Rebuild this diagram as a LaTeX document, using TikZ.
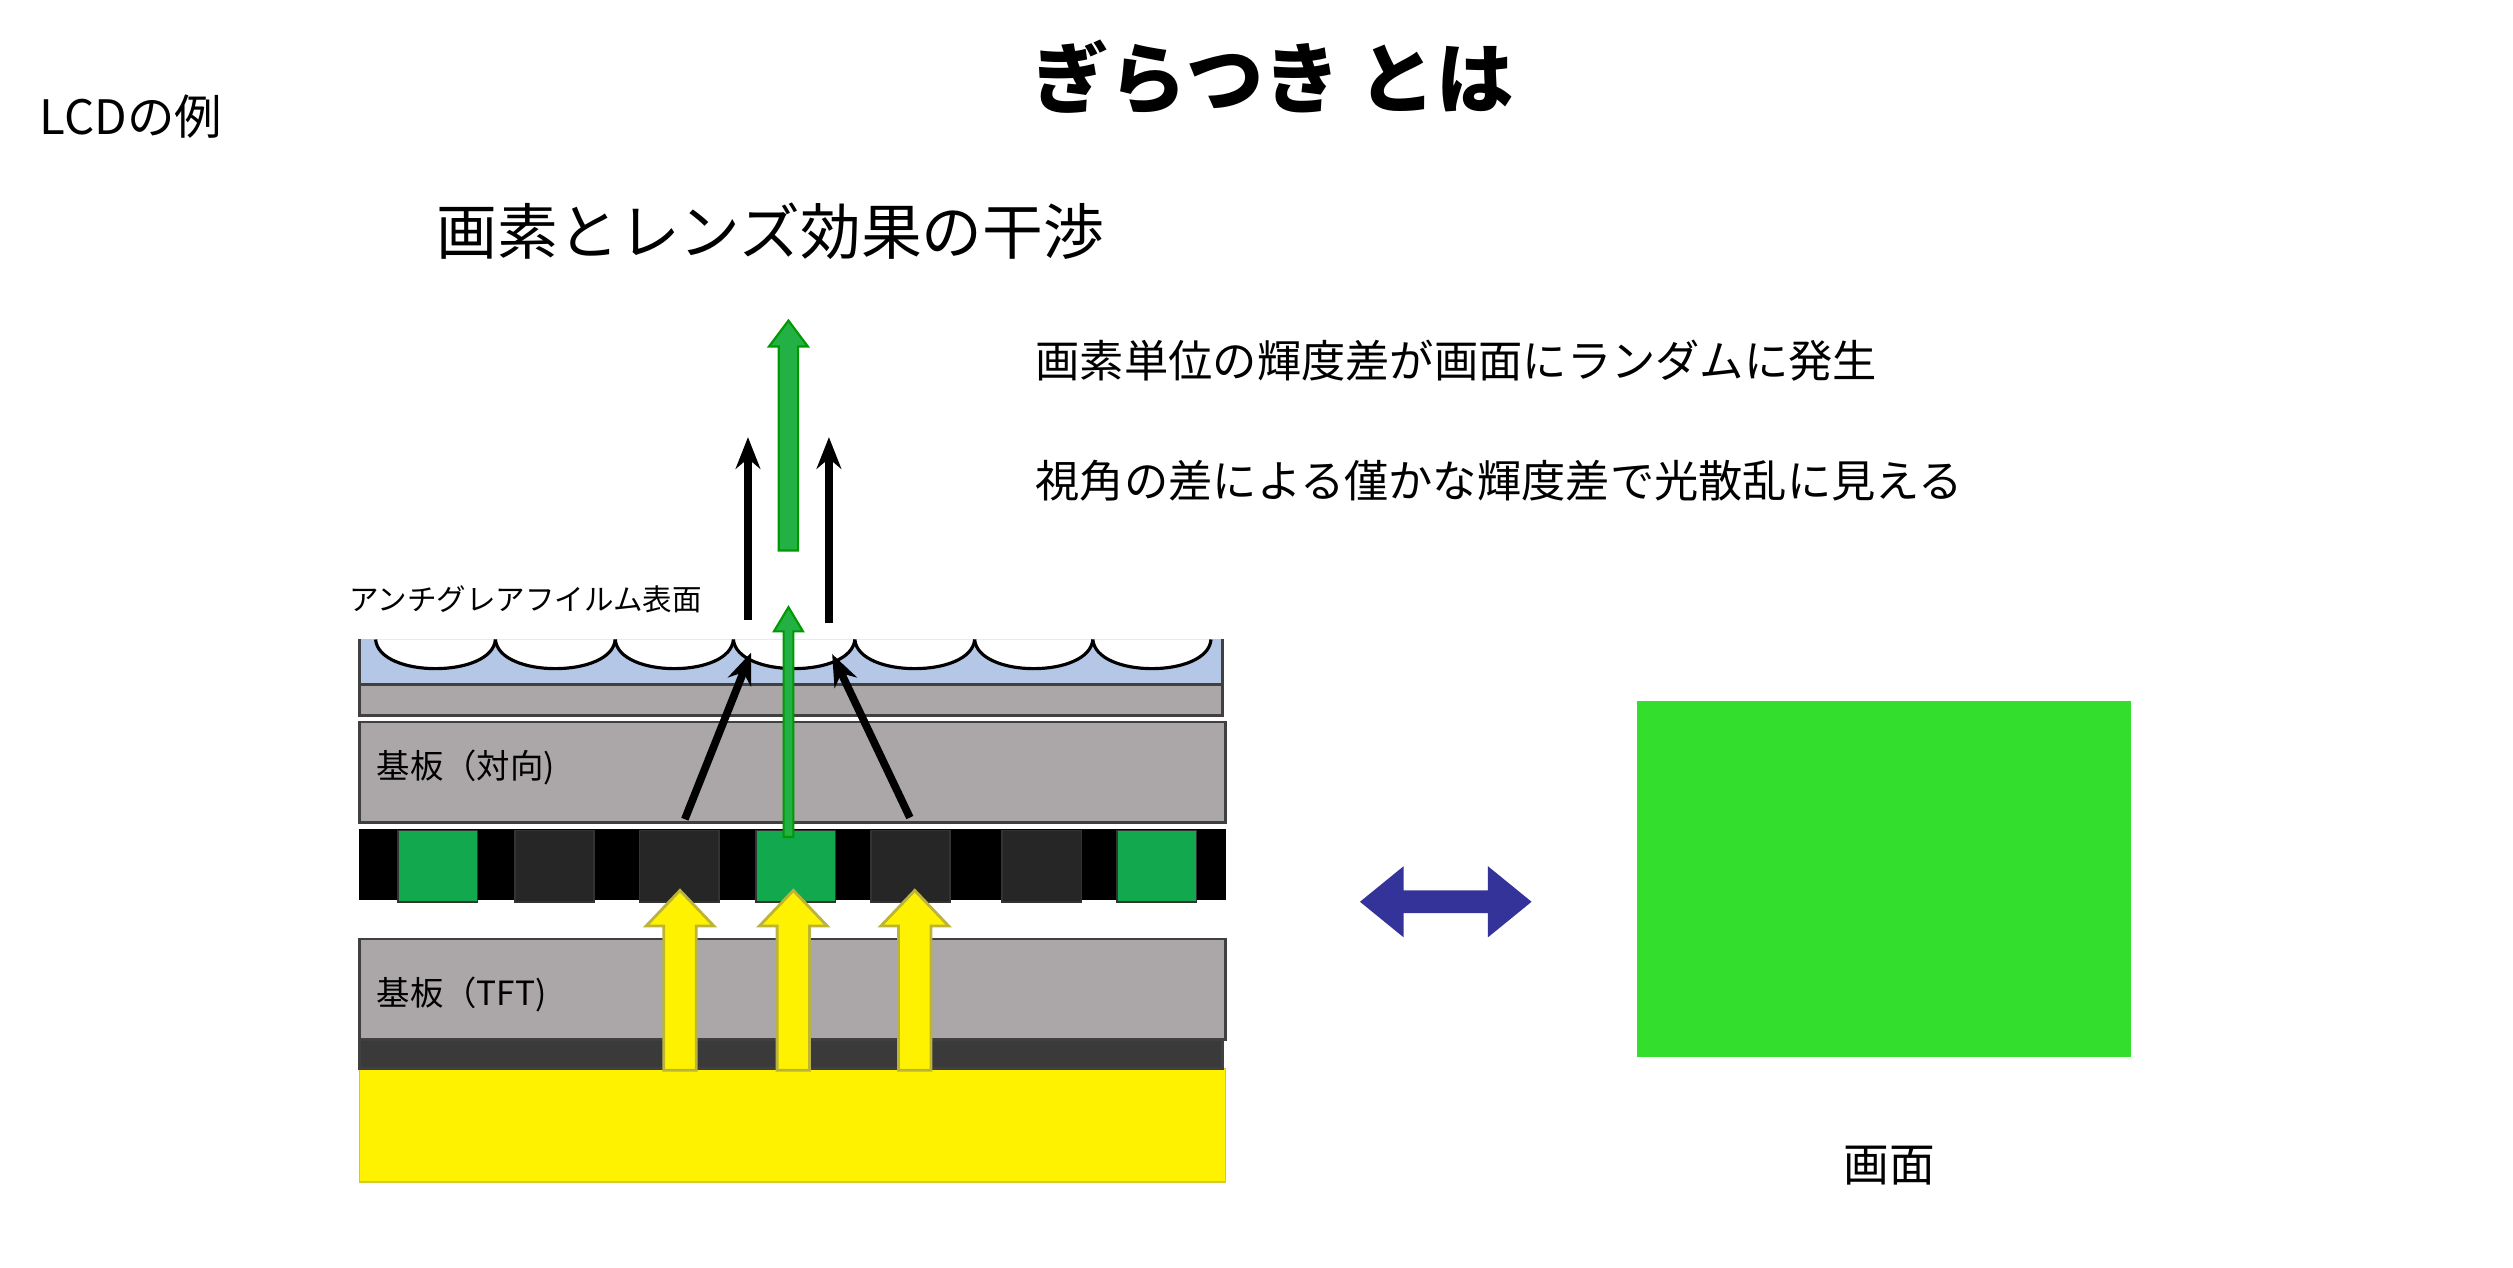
\documentclass[tikz,border=0pt]{standalone}
\usepackage{fontspec}
\setmainfont{Noto Sans CJK JP}
\usetikzlibrary{arrows.meta}
\definecolor{plategray}{RGB}{171,167,168}
\definecolor{filmblue}{RGB}{180,199,231}
\definecolor{cellgreen}{RGB}{18,168,78}
\definecolor{celldark}{RGB}{38,38,38}
\definecolor{bandgray}{RGB}{58,58,58}
\definecolor{screengreen}{RGB}{52,222,44}
\definecolor{navy}{RGB}{51,51,153}
\newcommand{\lightbeam}[1]{% x position
  \fill[yellow, draw=yellow!70!black, line width=0.8pt]
    (#1-10,661) -- (#1-10,572) -- (#1-21,572) -- (#1,550) -- (#1+21,572) -- (#1+10,572) -- (#1+10,661) -- cycle;}
\begin{document}
\begin{tikzpicture}[x=0.01619cm, y=-0.01619cm,
   layer_style/.style={draw=black!75, line width=0.8pt},
   ray_style/.style={line width=2.2pt, -{Stealth[length=9pt,width=7pt]}},
   green_ray/.style={fill=cellgreen!90!lime, draw=green!60!black, line width=0.6pt}]
    \useasboundingbox (0,0) rectangle (1552.2,782.6);

    % titles
    \node[font=\bfseries\fontsize{22}{26}\selectfont] (title) at (786,48) {ぎらつき とは};
    \node[anchor=west, font=\fontsize{13.5}{16}\selectfont] (lcd) at (17,72) {LCDの例};
    \node[anchor=west, font=\fontsize{17.3}{21}\selectfont] (sub) at (262,143) {画素とレンズ効果の干渉};
    \node[anchor=west, font=\fontsize{12.6}{15}\selectfont] (note1) at (632,223) {画素単位の輝度差が画面にランダムに発生};
    \node[anchor=west, font=\fontsize{12.6}{15}\selectfont] (note2) at (632,297) {視角の差による僅かな輝度差で光散乱に見える};

    % backlight and layers
    \fill[yellow, draw=yellow!80!black, line width=0.5pt] (222,660) rectangle (757,730);
    \fill[bandgray, layer_style] (222,642) rectangle (755,660);
    \fill[plategray, layer_style] (222,580) rectangle (757,642);
    \fill[black] (222,512) rectangle (757,556);
    \foreach \xa/\col in {246/cellgreen, 318/celldark, 395/celldark, 467/cellgreen, 538/celldark, 619/celldark, 690/cellgreen}
        \fill[\col, draw=black!80, line width=0.5pt] (\xa,513) rectangle (\xa+49,557);
    \fill[plategray, layer_style] (222,446) rectangle (757,508);
    \fill[plategray, layer_style] (222,423) rectangle (755,442);
    \fill[filmblue] (222,395) rectangle (755,423);
    \draw[black!75, line width=0.8pt] (222,395) -- (222,423) -- (755,423) -- (755,395);
    \foreach \xa/\xb in {232/306, 306/380, 380/453, 453/528, 528/602, 602/675, 675/748}
        \filldraw[fill=white, draw=black, line width=0.9pt]
          (\xa,395) .. controls (\xa+2,419) and (\xb-2,419) .. (\xb,395);

    % labels
    \node[anchor=west, font=\fontsize{8.4}{10}\selectfont] (film) at (208,370) {アンチグレアフイルム表面};
    \node[anchor=west, font=\fontsize{9.5}{11}\selectfont] (opp) at (225,474) {基板（対向)};
    \node[anchor=west, font=\fontsize{9.5}{11}\selectfont] (tft) at (225,614) {基板（TFT)};

    % light
    \lightbeam{420}
    \lightbeam{490}
    \lightbeam{565}
    \filldraw[green_ray] (484,517) -- (484,390) -- (478,390) -- (487,375) -- (496,390) -- (490,390) -- (490,517) -- cycle;
    \filldraw[green_ray] (481,340) -- (481,214) -- (475,214) -- (487,198) -- (499,214) -- (493,214) -- (493,340) -- cycle;

    \coordinate (l0) at (423,506);
    \coordinate (l1) at (464,403);
    \coordinate (r0) at (562,505);
    \coordinate (r1) at (514,404);
    \coordinate (lt0) at (462,383);
    \coordinate (lt1) at (462,270);
    \coordinate (rt0) at (512,385);
    \coordinate (rt1) at (512,270);
    \draw[ray_style] (l0) -- (l1);
    \draw[ray_style] (r0) -- (r1);
    \draw[ray_style] (lt0) -- (lt1);
    \draw[ray_style] (rt0) -- (rt1);

    % screen
    \node[draw=none, fill=screengreen, minimum width=305*0.01619cm, minimum height=220*0.01619cm, inner sep=0pt] (screen) at (1163.5,543) {};
    \node[font=\fontsize{13}{15}\selectfont] (screenlabel) at (1167,720) {画面};
    \coordinate (da) at (840,557);
    \coordinate (db) at (946,557);
    \fill[navy] (da) -- (867,535) -- (867,550) -- (919,550) -- (919,535) -- (db) -- (919,579) -- (919,564) -- (867,564) -- (867,579) -- cycle;
\end{tikzpicture}
\end{document}
